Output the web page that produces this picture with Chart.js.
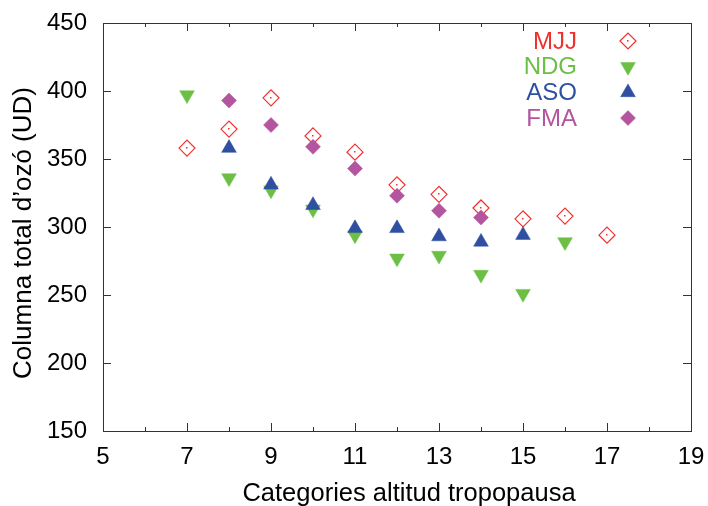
<!DOCTYPE html>
<html>
<head>
<meta charset="utf-8">
<script src="https://cdn.jsdelivr.net/npm/chart.js@4"></script>
<style>
  html, body { margin: 0; padding: 0; background: #fff; }
  #wrap { width: 708px; height: 506px; }
</style>
</head>
<body>
<div id="wrap"><canvas id="ozoneChart" width="708" height="506"></canvas></div>
<script>
// categories d'altitud de la tropopausa i columna total d'ozó (UD)
const mjjX = [7, 8, 9, 10, 11, 12, 13, 14, 15, 16, 17];
const mjjY = [358, 372, 395, 367, 355, 331, 324, 314, 306, 308, 294];
const ndgX = [7, 8, 9, 10, 11, 12, 13, 14, 15, 16];
const ndgY = [397, 336, 327, 313, 294, 277, 279, 265, 251, 289];
const asoX = [8, 9, 10, 11, 12, 13, 14, 15];
const asoY = [358, 331, 316, 299, 299, 293, 289, 294];
const fmaX = [8, 9, 10, 11, 12, 13, 14];
const fmaY = [393, 375, 359, 343, 323, 312, 307];

const xTicks = [5, 7, 9, 11, 13, 15, 17, 19];
const yTicks = [150, 200, 250, 300, 350, 400, 450];

const seriesNames = ["MJJ", "NDG", "ASO", "FMA"];
const seriesColors = ["#f0302e", "#6cbf45", "#2f4fa0", "#b4559f"];

const xTitle = "Categories altitud tropopausa";
const yTitle = "Columna total d\u2019ozó (UD)";

function toPoints(xs, ys) {
    return xs.map((x, i) => ({ x: x, y: ys[i] }));
}

const FONT = "'Liberation Sans', Arial, Helvetica, sans-serif";

// marcadors de cada sèrie
const markers = [
    { pointStyle: "rectRot", radius: 8, rotation: 0, fill: "rgba(0,0,0,0)", borderWidth: 1.2 },
    { pointStyle: "triangle", radius: 8.5, rotation: 180, fill: seriesColors[1], borderWidth: 0.5 },
    { pointStyle: "triangle", radius: 8.5, rotation: 0, fill: seriesColors[2], borderWidth: 0.5 },
    { pointStyle: "rectRot", radius: 7.5, rotation: 0, fill: seriesColors[3], borderWidth: 0.5 }
];

const allData = [toPoints(mjjX, mjjY), toPoints(ndgX, ndgY), toPoints(asoX, asoY), toPoints(fmaX, fmaY)];

const datasets = seriesNames.map((name, i) => ({
    label: name,
    data: allData[i],
    pointStyle: markers[i].pointStyle,
    pointRadius: markers[i].radius,
    pointRotation: markers[i].rotation,
    pointBackgroundColor: markers[i].fill,
    pointBorderColor: seriesColors[i],
    pointBorderWidth: markers[i].borderWidth,
    showLine: false,
    order: 4 - i // FMA dibuixat a sobre
}));

// caixa, marques cap endins, punt central, títols i llegenda
const framePlugin = {
    id: "frame",
    afterDatasetsDraw(chart) {
        const ctx = chart.ctx;
        const area = chart.chartArea;
        const xs = chart.scales.x;
        const ys = chart.scales.y;

        // punt petit al centre dels rombes buits
        const meta = chart.getDatasetMeta(0);
        ctx.save();
        ctx.fillStyle = seriesColors[0];
        meta.data.forEach(p => ctx.fillRect(Math.round(p.x) - 1, Math.round(p.y) - 1, 1.5, 1.5));
        ctx.restore();

        ctx.save();
        ctx.strokeStyle = "#333";
        ctx.lineWidth = 1;
        for (let v = 5; v <= 19; v++) {
            const px = Math.round(xs.getPixelForValue(v)) + 0.5;
            const len = (v % 2 === 1) ? 8 : 4;
            ctx.beginPath();
            ctx.moveTo(px, area.bottom);
            ctx.lineTo(px, area.bottom - len);
            ctx.moveTo(px, area.top);
            ctx.lineTo(px, area.top + len);
            ctx.stroke();
        }
        yTicks.forEach(v => {
            const py = Math.round(ys.getPixelForValue(v)) + 0.5;
            ctx.beginPath();
            ctx.moveTo(area.left, py);
            ctx.lineTo(area.left + 8, py);
            ctx.moveTo(area.right, py);
            ctx.lineTo(area.right - 8, py);
            ctx.stroke();
        });
        ctx.strokeRect(Math.round(area.left) + 0.5, Math.round(area.top) + 0.5,
            Math.round(area.right - area.left), Math.round(area.bottom - area.top));
        ctx.restore();

        // títols dels eixos (una mica desplaçats com a l'original)
        ctx.save();
        ctx.fillStyle = "#000";
        ctx.textAlign = "center";
        ctx.textBaseline = "middle";
        ctx.font = "25.5px " + FONT;
        ctx.fillText(xTitle, (area.left + area.right) / 2 + 12, 494);
        ctx.translate(24, (area.top + area.bottom) / 2 + 6);
        ctx.rotate(-Math.PI / 2);
        ctx.font = "26px " + FONT;
        ctx.fillText(yTitle, 0, 0);
        ctx.restore();

        // llegenda: text alineat a la dreta, símbol a la dreta
        ctx.save();
        ctx.font = "24px " + FONT;
        ctx.textAlign = "right";
        ctx.textBaseline = "middle";
        seriesNames.forEach((name, i) => {
            const yy = 41 + i * 25.7;
            ctx.fillStyle = seriesColors[i];
            ctx.fillText(name, 577, yy + 1);
            ctx.fillStyle = markers[i].fill;
            ctx.strokeStyle = seriesColors[i];
            ctx.lineWidth = markers[i].borderWidth;
            Chart.helpers.drawPoint(ctx, {
                pointStyle: markers[i].pointStyle,
                radius: markers[i].radius,
                rotation: markers[i].rotation,
                borderWidth: markers[i].borderWidth
            }, 628, yy);
            if (i === 0) {
                ctx.fillStyle = seriesColors[0];
                ctx.fillRect(627, yy - 1, 1.5, 1.5);
            }
        });
        ctx.restore();
    }
};

const ctx = document.getElementById("ozoneChart").getContext("2d");
new Chart(ctx, {
    type: "scatter",
    data: { datasets: datasets },
    options: {
        responsive: false,
        animation: false,
        events: [],
        layout: { padding: { top: 23, right: 17, left: 0, bottom: 0 } },
        plugins: {
            legend: { display: false },
            tooltip: { enabled: false }
        },
        scales: {
            x: {
                type: "linear",
                min: 5,
                max: 19,
                afterBuildTicks: axis => { axis.ticks = xTicks.map(v => ({ value: v })); },
                afterFit: axis => {
                    axis.height = 75;
                    axis.paddingLeft = 0;
                    axis.paddingRight = 0;
                },
                ticks: { color: "#000", font: { family: FONT, size: 24 }, padding: 12 },
                grid: { display: false, drawTicks: false },
                border: { display: false },
                title: { display: false, text: xTitle }
            },
            y: {
                min: 150,
                max: 450,
                afterBuildTicks: axis => { axis.ticks = yTicks.map(v => ({ value: v })); },
                afterFit: axis => {
                    axis.width = 103;
                    axis.paddingTop = 0;
                    axis.paddingBottom = 0;
                },
                ticks: { color: "#000", font: { family: FONT, size: 24 }, padding: 16 },
                grid: { display: false, drawTicks: false },
                border: { display: false },
                title: { display: false, text: yTitle }
            }
        }
    },
    plugins: [framePlugin]
});
</script>
</body>
</html>
